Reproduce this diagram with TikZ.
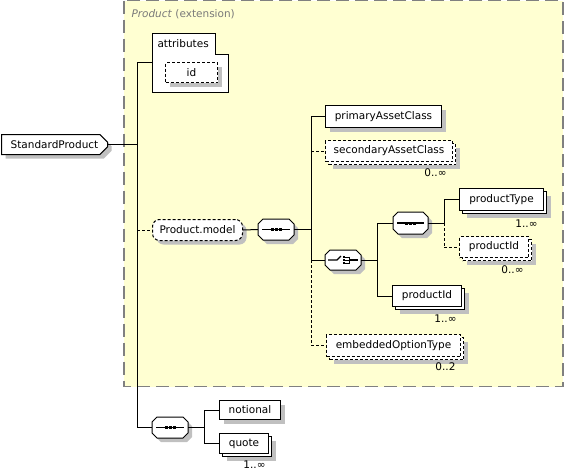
\documentclass[tikz,border=0pt]{standalone}
\usepackage{fontspec}
\setmainfont{DejaVu Sans}
\usetikzlibrary{shadows,shapes.misc,calc}
\definecolor{regfill}{HTML}{FFFFD2}
\definecolor{regdraw}{HTML}{808080}
\definecolor{shadowgray}{HTML}{C0C0C0}
\definecolor{titlegray}{HTML}{7A7A7A}
\tikzset{
  base/.style={font=\fontsize{10.5}{12}\selectfont},
  boxbase/.style={base, draw=black, line width=1pt, fill=white, inner sep=0pt, anchor=north west},
  single/.style={boxbase, drop shadow={shadow xshift=4pt, shadow yshift=-4pt, fill=shadowgray, opacity=1}},
  multi/.style={boxbase,
    drop shadow={shadow xshift=7pt, shadow yshift=-7pt, fill=shadowgray, opacity=1},
    copy shadow={shadow xshift=3pt, shadow yshift=-3pt, draw=black, fill=white, opacity=1}},
  opt/.style={dash pattern=on 3pt off 2pt},
  comp/.style={rectangle, draw=none, inner sep=0pt, anchor=north west, minimum width=35pt, minimum height=20pt},
  occ/.style={base, anchor=east, inner sep=0pt},
}
% octagon outline of a compositor node, shifted by (#2,#3)
\newcommand\octpath[3]{([shift={(#2+5,#3)}]#1.north west) -- ([shift={(#2-5,#3)}]#1.north east) -- ([shift={(#2,#3+5)}]#1.north east) -- ([shift={(#2,#3-5)}]#1.south east) -- ([shift={(#2-5,#3)}]#1.south east) -- ([shift={(#2+5,#3)}]#1.south west) -- ([shift={(#2,#3-5)}]#1.south west) -- ([shift={(#2,#3+5)}]#1.north west) -- cycle}
\newcommand\octo[1]{%
  \fill[shadowgray] \octpath{#1}{4}{4};
  \draw[fill=white] \octpath{#1}{0}{0};}
\newcommand\seqicon[1]{%
  \draw[line width=1.2pt] ([xshift=4pt]#1.west) -- ([xshift=-4pt]#1.east);
  \foreach \dx in {-4,0,4}{\fill ([shift={(\dx-1.5,-1.5)}]#1.center) rectangle ([shift={(\dx+1.5,1.5)}]#1.center);}}
\newcommand\choiceicon[1]{%
  \draw[line width=1.2pt] ([xshift=3pt]#1.west) -- ([xshift=-6pt]#1.center) -- ([shift={(-2,-4)}]#1.center);
  \foreach \dy in {-3,0,3}{\fill ([shift={(-0.5,\dy-1)}]#1.center) rectangle ([shift={(1.5,\dy+1)}]#1.center);
    \draw ([shift={(1.5,\dy)}]#1.center) -- ([shift={(6,\dy)}]#1.center);}
  \draw ([shift={(6,-3.5)}]#1.center) -- ([shift={(6,3.5)}]#1.center);
  \draw[line width=1.2pt] ([shift={(6,0)}]#1.center) -- ([xshift=-3pt]#1.east);}
\begin{document}
\begin{tikzpicture}[x=1pt,y=-1pt,line width=1pt]
\useasboundingbox (0,0) rectangle (564,472);
% extension region
\draw[regdraw, fill=regfill, line width=1.3pt, dash pattern=on 13pt off 6pt] (124,0.5) rectangle (563,386.5);
\node[base, anchor=west, inner sep=0pt, text=titlegray] (title) at (131,14) {\textit{Product} (extension)};
% attributes
\draw[fill=white] (152,33) -- (215,33) -- (215,54) -- (228,54) -- (228,92) -- (152,92) -- cycle;
\node[base, anchor=west, inner sep=0pt] (attr) at (157,44) {attributes};
\node[single, opt, minimum width=52pt, minimum height=20pt] (id) at (165,62) {id};
\coordinate (attrin) at (152,62);
% root
\node[single, chamfered rectangle, chamfered rectangle corners={north east,south east}, chamfered rectangle xsep=4pt, minimum width=106pt, minimum height=20pt] (sp) at (1,134) {StandardProduct};
% branch x positions
\coordinate (b1) at (137,0);
\coordinate (b2) at (311,0);
\coordinate (b3) at (377,0);
\coordinate (b4) at (444,0);
\coordinate (b5) at (204,0);
% group and compositors
\node[single, opt, rounded corners=7pt, minimum width=90pt, minimum height=21pt] (pm) at (152,219) {Product.model};
\node[comp] (seq1) at (258,219) {};
\node[comp, minimum height=19pt] (ch) at (325,250) {};
\node[comp, minimum width=34pt, minimum height=21pt] (seq2) at (393,212) {};
\node[comp] (seq3) at (152,417) {};
\octo{seq1}\seqicon{seq1}
\octo{ch}\choiceicon{ch}
\octo{seq2}\seqicon{seq2}
\octo{seq3}\seqicon{seq3}
% elements
\node[single, minimum width=116pt, minimum height=22pt] (pac) at (325,105) {primaryAssetClass};
\node[multi, opt, minimum width=127pt, minimum height=21pt] (sac) at (325,140) {secondaryAssetClass};
\node[multi, minimum width=84pt, minimum height=22pt] (pt) at (459,188) {productType};
\node[multi, opt, minimum width=69pt, minimum height=21pt] (pid1) at (459,236) {productId};
\node[multi, minimum width=69pt, minimum height=21pt] (pid2) at (392,285) {productId};
\node[multi, opt, minimum width=134pt, minimum height=22pt] (eot) at (326,334) {embeddedOptionType};
\node[single, minimum width=61pt, minimum height=19pt] (notl) at (219,400) {notional};
\node[multi, minimum width=49pt, minimum height=20pt] (quote) at (219,433) {quote};
% occurrences
\node[occ] (o1) at (447,173) {0..∞};
\node[occ] (o2) at (538,224) {1..∞};
\node[occ] (o3) at (524,270) {0..∞};
\node[occ] (o4) at (457,319) {1..∞};
\node[occ] (o5) at (456,367) {0..2};
\node[occ] (o6) at (266,465) {1..∞};
% connectors
\draw (sp.east) -- (sp.east -| b1);
\draw (b1 |- attrin) -- (b1 |- seq3.west);
\draw (b1 |- attrin) -- (attrin);
\draw[opt] (b1 |- pm.west) -- (pm.west);
\draw (b1 |- seq3.west) -- (seq3.west);
\draw (pm.east) -- (seq1.west);
\draw (seq1.east) -- (seq1.east -| b2);
\draw (b2 |- pac.west) -- (b2 |- ch.west);
\draw[opt] (b2 |- ch.west) -- (b2 |- eot.west);
\draw (b2 |- pac.west) -- (pac.west);
\draw[opt] (b2 |- sac.west) -- (sac.west);
\draw (b2 |- ch.west) -- (ch.west);
\draw[opt] (b2 |- eot.west) -- (eot.west);
\draw (ch.east) -- (ch.east -| b3);
\draw (b3 |- seq2.west) -- (b3 |- pid2.west);
\draw (b3 |- seq2.west) -- (seq2.west);
\draw (b3 |- pid2.west) -- (pid2.west);
\draw (seq2.east) -- (seq2.east -| b4);
\draw (b4 |- pt.west) -- (b4 |- seq2.east);
\draw[opt] (b4 |- seq2.east) -- (b4 |- pid1.west);
\draw (b4 |- pt.west) -- (pt.west);
\draw[opt] (b4 |- pid1.west) -- (pid1.west);
\draw (seq3.east) -- (seq3.east -| b5);
\draw (b5 |- notl.west) -- (b5 |- quote.west);
\draw (b5 |- notl.west) -- (notl.west);
\draw (b5 |- quote.west) -- (quote.west);
\end{tikzpicture}
\end{document}
